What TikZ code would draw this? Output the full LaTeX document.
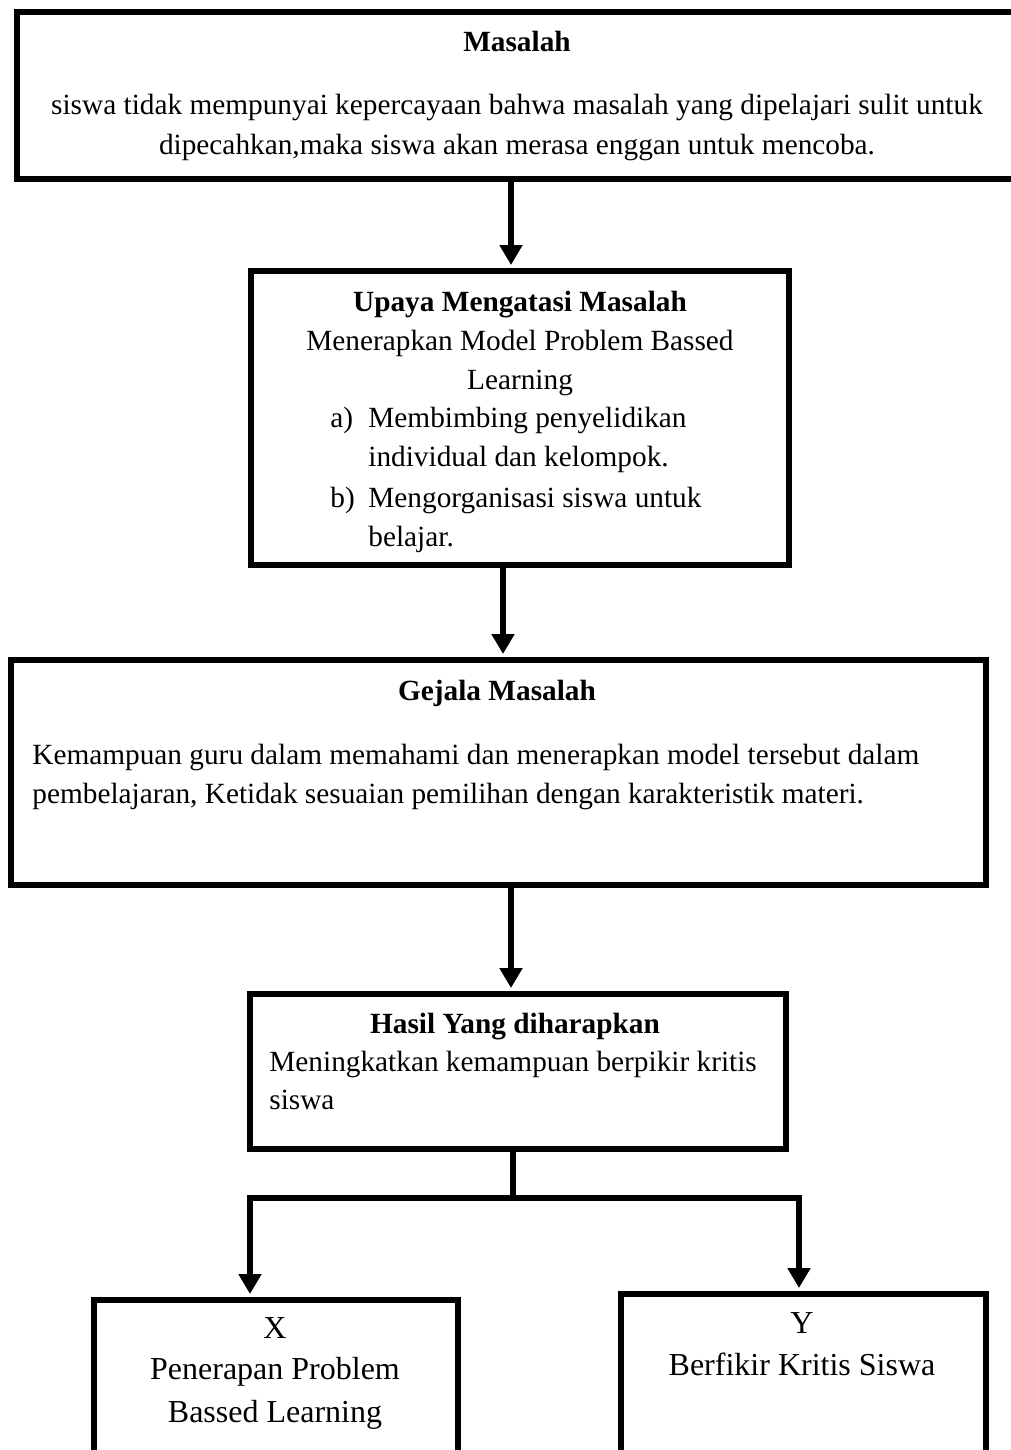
\documentclass[tikz,border=0pt]{standalone}
\usepackage{fontspec}
\setmainfont{Liberation Serif}
\usetikzlibrary{arrows.meta}
\begin{document}
\begin{tikzpicture}[x=0.5pt,y=-0.5pt,
  box/.style={draw, line width=3pt, inner sep=0pt, fill=none},
  txt/.style={anchor=base, inner sep=0pt, font=\fontsize{14.65}{20}\selectfont},
  ltxt/.style={txt, anchor=base west},
  bigtxt/.style={anchor=base, inner sep=0pt, font=\fontsize{16}{21}\selectfont},
  conn/.style={line width=3pt},
  arr/.style={line width=3pt, -{Triangle[width=11pt,length=10pt]}, shorten >=1.5pt}]
\clip (0,0) rectangle (1011,1450);
\fill[white] (0,0) rectangle (1011,1450);

% boxes
\node[box, minimum width=504pt, minimum height=83.5pt] (b1) at (521,95.5) {};
\node[box, minimum width=269pt, minimum height=147pt] (b2) at (520,418) {};
\node[box, minimum width=487.5pt, minimum height=112.5pt] (b3) at (498.5,772.5) {};
\node[box, minimum width=268pt, minimum height=77.5pt] (b4) at (518,1071.5) {};
\node[box, minimum width=182pt, minimum height=90pt] (bx) at (276,1390) {};
\node[box, minimum width=182.5pt, minimum height=93pt] (by) at (803.5,1387) {};

% box 1 text
\node[txt, font=\fontsize{14.65}{20}\selectfont\bfseries] (t1) at (517,52) {Masalah};
\node[txt] (t1a) at (517,115) {siswa tidak mempunyai kepercayaan bahwa masalah yang dipelajari sulit untuk};
\node[txt] (t1b) at (517,155) {dipecahkan,maka siswa akan merasa enggan untuk mencoba.};

% box 2 text
\node[txt, font=\fontsize{14.65}{20}\selectfont\bfseries] (t2) at (520,311) {Upaya Mengatasi Masalah};
\node[txt] (t2a) at (520,350) {Menerapkan Model Problem Bassed};
\node[txt] (t2b) at (520,389) {Learning};
\node[ltxt] (t2c) at (330,427) {a)};
\node[ltxt] (t2d) at (368,427) {Membimbing penyelidikan};
\node[ltxt] (t2e) at (368,466) {individual dan kelompok.};
\node[ltxt] (t2f) at (330,507) {b)};
\node[ltxt] (t2g) at (368,507) {Mengorganisasi siswa untuk};
\node[ltxt] (t2h) at (368,546) {belajar.};

% box 3 text
\node[txt, font=\fontsize{14.65}{20}\selectfont\bfseries] (t3) at (497,700) {Gejala Masalah};
\node[ltxt] (t3a) at (32,764) {Kemampuan guru dalam memahami dan menerapkan model tersebut dalam};
\node[ltxt] (t3b) at (32,803) {pembelajaran, Ketidak sesuaian pemilihan dengan karakteristik materi.};

% box 4 text
\node[txt, font=\fontsize{14.65}{20}\selectfont\bfseries] (t4) at (515,1033) {Hasil Yang diharapkan};
\node[ltxt] (t4a) at (269,1071) {Meningkatkan kemampuan berpikir kritis};
\node[ltxt] (t4b) at (269,1109) {siswa};

% box X text
\node[bigtxt] (tx) at (275,1338) {X};
\node[bigtxt] (txa) at (275,1379) {Penerapan Problem};
\node[bigtxt] (txb) at (275,1422) {Bassed Learning};

% box Y text
\node[bigtxt] (ty) at (802,1333) {Y};
\node[bigtxt] (tya) at (802,1375) {Berfikir Kritis Siswa};

% connectors
\coordinate (a1) at (511,0);
\coordinate (a2) at (503,0);
\coordinate (a3) at (511,0);
\coordinate (j) at (513,1198);
\coordinate (jl) at (250,1198);
\coordinate (jr) at (799,1198);

\draw[arr] (a1 |- b1.south) -- (a1 |- b2.north);
\draw[arr] (a2 |- b2.south) -- (a2 |- b3.north);
\draw[arr] (a3 |- b3.south) -- (a3 |- b4.north);
\draw[conn] (j |- b4.south) -- (j);
\draw[arr] (j) -- (jl) -- (jl |- bx.north);
\draw[arr] (j) -- (jr) -- (jr |- by.north);
\end{tikzpicture}
\end{document}
